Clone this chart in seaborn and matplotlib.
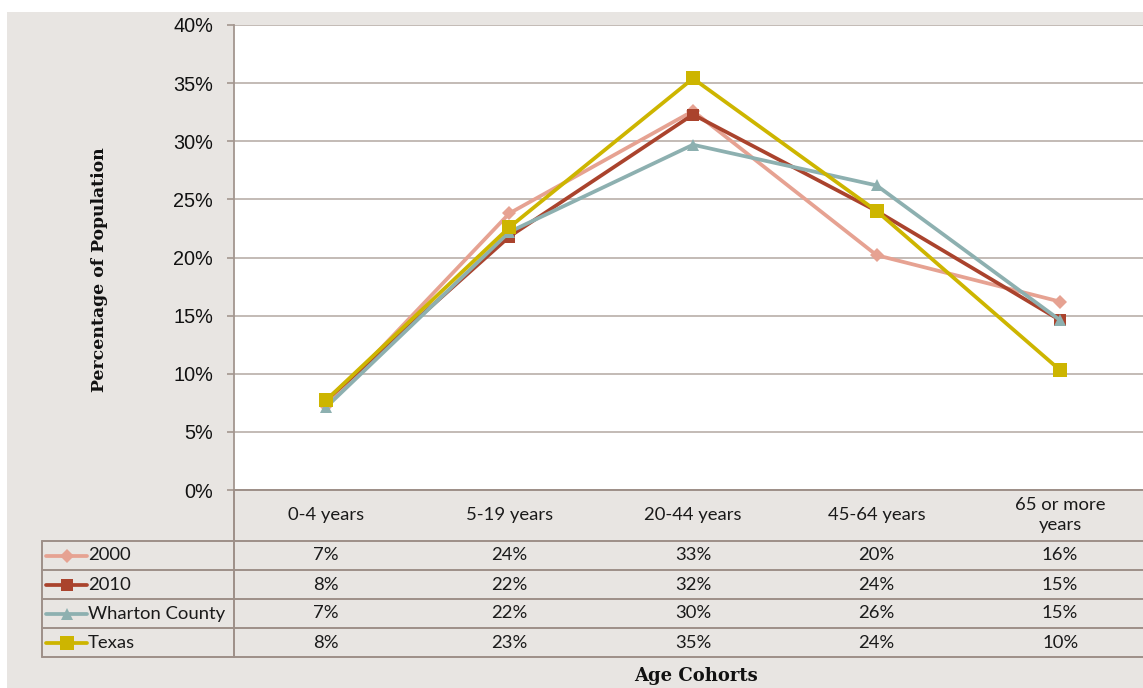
import numpy as np
import pandas as pd
import matplotlib
matplotlib.use("Agg")
import matplotlib.pyplot as plt
from matplotlib.lines import Line2D
from matplotlib.patches import Rectangle
from matplotlib.ticker import FuncFormatter
from matplotlib.transforms import blended_transform_factory
import seaborn as sns

# ---- data -------------------------------------------------------------
cohorts = ["0-4 years", "5-19 years", "20-44 years", "45-64 years", "65 or more\nyears"]
series_names = ["2000", "2010", "Wharton County", "Texas"]
share_2000 = [0.072, 0.238, 0.326, 0.202, 0.162]
share_2010 = [0.077, 0.218, 0.323, 0.240, 0.146]
share_wharton = [0.071, 0.222, 0.297, 0.262, 0.146]
share_texas = [0.077, 0.226, 0.354, 0.240, 0.103]
y_ticks = [0.0, 0.05, 0.10, 0.15, 0.20, 0.25, 0.30, 0.35, 0.40]

colors = {"2000": "#E6A292", "2010": "#AA432D", "Wharton County": "#8DB0B0", "Texas": "#CDB500"}
markers = {"2000": "D", "2010": "s", "Wharton County": "^", "Texas": "s"}
msizes = {"2000": 7, "2010": 8, "Wharton County": 8.5, "Texas": 9.5}

values = {"2000": share_2000, "2010": share_2010,
          "Wharton County": share_wharton, "Texas": share_texas}
df = pd.DataFrame([
    {"cohort": c, "series": s, "share": v}
    for s in series_names for c, v in zip(cohorts, values[s])
])

# ---- figure / layout (pixel based) -----------------------------------
W, H = 1143, 688
BG = "#E8E5E2"
TABLE_LINE = "#9D8F88"
GRID = "#C3BBB6"

sns.set_theme(style="white")
plt.rcParams["font.family"] = ["Liberation Sans", "DejaVu Sans"]

fig = plt.figure(figsize=(W / 100, H / 100), dpi=100, facecolor="white")
fig.patches.append(Rectangle((7 / W, 0), 1 - 7 / W, 1 - 12 / H,
                             transform=fig.transFigure, facecolor=BG,
                             edgecolor="none", zorder=-10))

def fx(px):
    return px / W

def fy(py):
    return 1 - py / H

left, right, top, bottom = 234, 1152, 25, 490
ax = fig.add_axes([fx(left), fy(bottom), fx(right) - fx(left), fy(top) - fy(bottom)])
ax.set_facecolor("white")

for s in series_names:
    sub = df[df["series"] == s]
    sns.lineplot(data=sub, x="cohort", y="share", ax=ax, color=colors[s],
                 marker=markers[s], markersize=msizes[s], markeredgewidth=0,
                 linewidth=2.7, sort=False, legend=False, zorder=3)

ax.set_xlim(-0.5, len(cohorts) - 0.5)
ax.set_ylim(0, 0.40)
ax.set_yticks(y_ticks)
ax.yaxis.set_major_formatter(FuncFormatter(lambda v, _: f"{v * 100:.0f}%"))
ax.set_xticks([])
ax.set_xlabel("")
ax.set_ylabel("")
ax.grid(axis="y", color=GRID, linewidth=1.4)
ax.set_axisbelow(True)
for side in ["top", "right"]:
    ax.spines[side].set_visible(False)
ax.spines["left"].set_color("#A3968F")
ax.spines["left"].set_linewidth(1.3)
ax.spines["bottom"].set_color(TABLE_LINE)
ax.spines["bottom"].set_linewidth(1.4)
ax.tick_params(axis="y", which="major", left=True, length=5, width=1.2,
               color="#A3968F", pad=10, labelsize=14.3, labelcolor="#111111")

# ---- data table under the plot ----------------------------------------
tbl_font = ["Lato", "DejaVu Sans"]
tbl_size = 13.3
row_lines = [541, 570, 599, 628, 657]
xt = blended_transform_factory(ax.transData, fig.transFigure)

# frame of the table
fig.add_artist(Line2D([fx(left), fx(left)], [fy(bottom), fy(657)],
                      color=TABLE_LINE, linewidth=1.4))
fig.add_artist(Line2D([fx(42), fx(42)], [fy(541), fy(657)],
                      color=TABLE_LINE, linewidth=1.4))
for ry in row_lines:
    fig.add_artist(Line2D([fx(42), 1.0], [fy(ry), fy(ry)],
                          color=TABLE_LINE, linewidth=1.4))

# column headers
for i, c in enumerate(cohorts):
    fig.text(i, fy(515), c, transform=xt, ha="center", va="center",
             fontsize=tbl_size, family=tbl_font, color="#1a1a1a",
             linespacing=1.3)

# value rows with legend keys
for r, s in enumerate(series_names):
    yc = (row_lines[r] + row_lines[r + 1]) / 2
    fig.add_artist(Line2D([fx(46), fx(87)], [fy(yc), fy(yc)], color=colors[s],
                          linewidth=2.7))
    fig.add_artist(Line2D([fx(66.5)], [fy(yc)], color=colors[s], marker=markers[s],
                          markersize=msizes[s], markeredgewidth=0, linestyle="none"))
    fig.text(fx(88), fy(yc), s, ha="left", va="center", fontsize=tbl_size,
             family=tbl_font, color="#1a1a1a")
    for i, v in enumerate(values[s]):
        fig.text(i, fy(yc), f"{v * 100:.0f}%", transform=xt, ha="center",
                 va="center", fontsize=tbl_size, family=tbl_font, color="#1a1a1a")

# axis titles
fig.text(fx(696), fy(676), "Age Cohorts", ha="center", va="center",
         fontsize=13, fontweight="bold", family=["DejaVu Serif"], color="#111111")
fig.text(fx(99), fy(270), "Percentage of Population", ha="center", va="center",
         rotation=90, fontsize=12.4, fontweight="bold", family=["DejaVu Serif"],
         color="#111111")

fig.savefig("out.png", dpi=100, facecolor=fig.get_facecolor())
